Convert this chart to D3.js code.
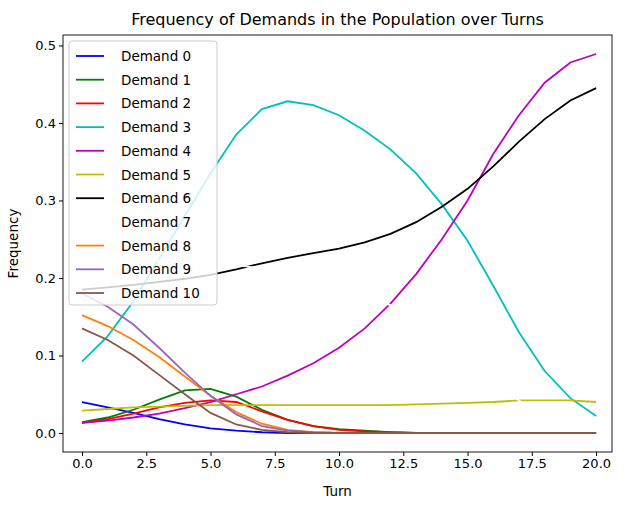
<!DOCTYPE html>
<html><head><meta charset="utf-8">
<script src="https://cdn.jsdelivr.net/npm/d3@7"></script>
<style>body{margin:0;background:#fff}text{font-family:"DejaVu Sans",sans-serif}</style>
</head><body><svg id="c" width="628" height="513"></svg>
<script>
const turns = d3.range(0, 21);
const names = ["Demand 0","Demand 1","Demand 2","Demand 3","Demand 4","Demand 5","Demand 6","Demand 7","Demand 8","Demand 9","Demand 10"];
const colors = ["#0000ff","#008000","#ff0000","#00bfbf","#bf00bf","#bfbf00","#000000","#ffffff","#ff7f0e","#9467bd","#8c564b"];
const z = n => Array(n).fill(0);
const d0 = [0.04,0.033,0.026,0.018,0.011,0.006,0.003,0.001].concat(z(13));
const d1 = [0.014,0.02,0.03,0.043,0.055,0.057,0.047,0.03,0.017,0.009,0.005,0.003,0.001].concat(z(8));
const d2 = [0.013,0.018,0.025,0.033,0.039,0.042,0.04,0.028,0.017,0.009,0.004,0.002,0.001].concat(z(8));
const d3v = [0.092,0.125,0.17,0.225,0.28,0.335,0.385,0.418,0.428,0.423,0.41,0.39,0.366,0.335,0.295,0.248,0.19,0.13,0.08,0.045,0.022];
const d4 = [0.013,0.016,0.02,0.025,0.032,0.04,0.05,0.06,0.074,0.09,0.11,0.135,0.167,0.205,0.25,0.3,0.36,0.41,0.452,0.478,0.489];
const d5 = [0.029,0.031,0.033,0.034,0.035,0.036,0.036,0.036,0.036,0.036,0.036,0.036,0.036,0.037,0.038,0.039,0.04,0.042,0.042,0.042,0.04];
const d6 = [0.185,0.188,0.191,0.195,0.199,0.204,0.211,0.219,0.226,0.232,0.238,0.246,0.257,0.272,0.292,0.315,0.344,0.376,0.405,0.429,0.445];
const d7 = [0.21,0.215,0.22,0.222,0.222,0.22,0.217,0.212,0.205,0.196,0.185,0.176,0.165,0.15,0.13,0.105,0.075,0.042,0.02,0.008,0.003];
const d8 = [0.152,0.138,0.12,0.098,0.073,0.048,0.027,0.012,0.004,0.001].concat(z(11));
const d9 = [0.18,0.163,0.14,0.11,0.078,0.048,0.024,0.009,0.003,0.001].concat(z(11));
const d10 = [0.135,0.12,0.1,0.075,0.05,0.026,0.011,0.004,0.001].concat(z(12));
const series = [d0,d1,d2,d3v,d4,d5,d6,d7,d8,d9,d10];

const svg = d3.select("#c");
const L = 63, R = 612, T = 35, B = 452;
const x = d3.scaleLinear().domain([-0.74, 20.62]).range([L, R]);
const y = d3.scaleLinear().domain([-0.0245, 0.5135]).range([B, T]);

const line = d3.line().x((d, i) => x(turns[i])).y(d => y(d));
series.forEach((s, k) => {
  svg.append("path").attr("d", line(s)).attr("fill", "none")
    .attr("stroke", colors[k]).attr("stroke-width", 1.8);
});

svg.append("rect").attr("x", L).attr("y", T).attr("width", R - L).attr("height", B - T)
  .attr("fill", "none").attr("stroke", "#000").attr("stroke-width", 0.9);

const xa = svg.append("g").attr("transform", `translate(0,${B})`)
  .call(d3.axisBottom(x).tickValues([0,2.5,5,7.5,10,12.5,15,17.5,20]).tickFormat(d3.format(".1f")).tickSize(4));
const ya = svg.append("g").attr("transform", `translate(${L},0)`)
  .call(d3.axisLeft(y).tickValues([0,0.1,0.2,0.3,0.4,0.5]).tickFormat(d3.format(".1f")).tickSize(4));
[xa, ya].forEach(a => { a.select(".domain").remove(); a.selectAll("text").attr("font-size", 13).attr("fill", "#000"); });

svg.append("text").attr("x", (L + R) / 2).attr("y", 25).attr("text-anchor", "middle").attr("font-size", 16).text("Frequency of Demands in the Population over Turns");
svg.append("text").attr("x", (L + R) / 2).attr("y", 496).attr("text-anchor", "middle").attr("font-size", 13.5).text("Turn");
svg.append("text").attr("transform", `translate(18,${(T + B) / 2}) rotate(-90)`).attr("text-anchor", "middle").attr("font-size", 13.5).text("Frequency");

const lg = svg.append("g").attr("transform", "translate(69,41)");
lg.append("rect").attr("width", 148).attr("height", 264).attr("rx", 3)
  .attr("fill", "#fff").attr("fill-opacity", 0.8).attr("stroke", "#ccc");
names.forEach((n, k) => {
  const yy = 15 + k * 23.7;
  lg.append("line").attr("x1", 7).attr("x2", 35).attr("y1", yy).attr("y2", yy).attr("stroke", colors[k]).attr("stroke-width", 1.8);
  lg.append("text").attr("x", 52).attr("y", yy + 5).attr("font-size", 13.5).text(n);
});
</script></body></html>
